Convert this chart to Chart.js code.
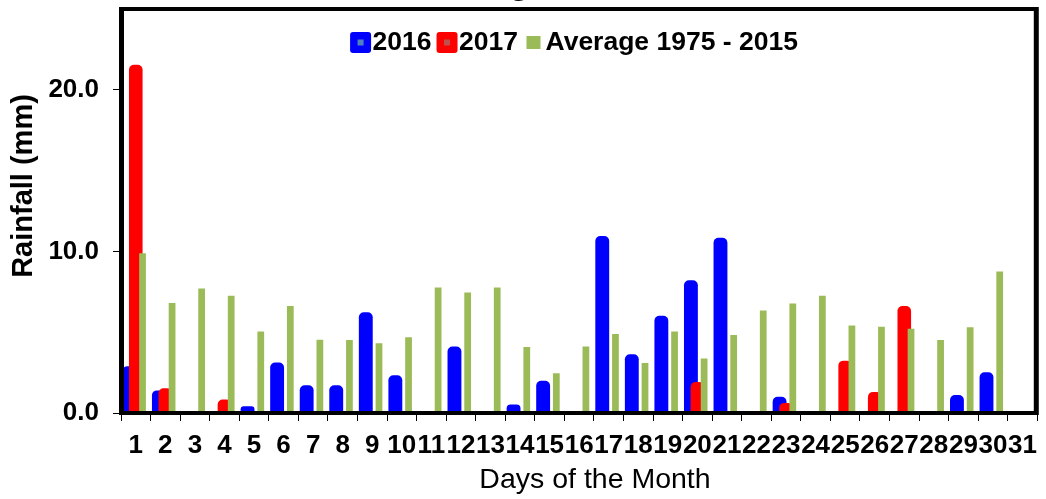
<!DOCTYPE html>
<html>
<head>
<meta charset="utf-8">
<script src="https://cdn.jsdelivr.net/npm/chart.js@4/dist/chart.umd.min.js"></script>
<style>
  html, body { margin: 0; padding: 0; background: #fff; overflow: hidden; }
  #wrap { position: relative; width: 1046px; height: 499px; overflow: hidden; }
  #chart { position: absolute; left: 0; top: -35px; }
</style>
</head>
<body>
<div id="wrap"><canvas id="chart" width="1046" height="534"></canvas></div>
<script>
  // Days of the month (x axis)
  const days = ["1", "2", "3", "4", "5", "6", "7", "8", "9", "10", "11", "12", "13", "14", "15", "16",
    "17", "18", "19", "20", "21", "22", "23", "24", "25", "26", "27", "28", "29", "30", "31"];

  // Daily rainfall in mm
  const rain2016 = [2.9, 1.4, 0, 0, 0.41, 3.12, 1.71, 1.71, 6.23, 2.33, 0, 4.11, 0, 0.52, 2.0, 0,
    10.95, 3.63, 6.02, 8.21, 10.85, 0, 1.01, 0, 0, 0, 0, 0, 1.11, 2.52, 0];
  const rain2017 = [21.55, 1.53, 0, 0.83, 0, 0, 0, 0, 0, 0, 0, 0, 0, 0, 0, 0,
    0, 0, 0, 1.92, 0, 0, 0.62, 0, 3.24, 1.3, 6.62, 0, 0, 0, 0];
  const rainAverage = [9.89, 6.8, 7.71, 7.26, 5.05, 6.62, 4.54, 4.51, 4.31, 4.68, 7.77, 7.45, 7.77, 4.08, 2.46, 4.12,
    4.89, 3.09, 5.05, 3.38, 4.82, 6.35, 6.77, 7.26, 5.42, 5.34, 5.22, 4.51, 5.3, 8.76, null];

  const seriesNames = ["2016", "2017", "Average 1975 - 2015"];
  const yMax = 25;
  const yStep = 10;

  const FONT = "'Liberation Sans', Arial, sans-serif";
  const SHIFT = 35; // canvas sits 35px above the page so the title is cut off

  // Legend inside the plot, axis titles and the top/right frame
  const chartExtras = {
    id: "chartExtras",
    beforeDatasetsDraw(chart) {
      // draw series in index order so the right-hand bars sit on top
      const ctx = chart.ctx, a = chart.chartArea;
      ctx.save();
      ctx.beginPath();
      ctx.rect(a.left, a.top, a.right - a.left, a.bottom - a.top);
      ctx.clip();
      chart.getSortedVisibleDatasetMetas().forEach(meta => meta.controller.draw());
      ctx.restore();
      return false;
    },
    afterDraw(chart) {
      const ctx = chart.ctx, a = chart.chartArea;
      ctx.save();

      // frame
      ctx.strokeStyle = "#000";
      ctx.lineWidth = 4;
      ctx.beginPath();
      ctx.moveTo(a.left - 2, a.top);
      ctx.lineTo(a.right, a.top);
      ctx.stroke();
      ctx.lineWidth = 5;
      ctx.beginPath();
      ctx.moveTo(a.right - 1, a.top - 2);
      ctx.lineTo(a.right - 1, a.bottom + 2);
      ctx.stroke();

      // legend
      const inner = ["#4F81BD", "#C0504D", null];
      ctx.font = "bold 26.5px " + FONT;
      ctx.textBaseline = "middle";
      ctx.textAlign = "left";
      const items = chart.data.datasets.map((ds, i) => ({
        label: ds.label, color: ds.backgroundColor, inner: inner[i], w: ctx.measureText(ds.label).width
      }));
      const slot = 21, gapText = 1.5, gapItem = 5;
      let total = 0;
      items.forEach((it, i) => { total += slot + gapText + it.w + (i ? gapItem : 0); });
      let x = 574 - total / 2;
      const cy = 42.5 + SHIFT;
      items.forEach(it => {
        if (it.inner) {
          ctx.fillStyle = it.color;
          ctx.beginPath();
          ctx.roundRect(x, cy - 10.5, slot, slot, 3);
          ctx.fill();
          ctx.fillStyle = it.inner;
          ctx.fillRect(x + 7.5, cy - 3, 6, 6);
        } else {
          ctx.fillStyle = it.color;
          ctx.fillRect(x + 3.5, cy - 6.5, 14, 13);
        }
        x += slot + gapText;
        ctx.fillStyle = "#000";
        ctx.fillText(it.label, x, cy);
        x += it.w + gapItem;
      });

      // x axis title
      ctx.font = "28.5px " + FONT;
      ctx.textAlign = "center";
      ctx.textBaseline = "alphabetic";
      ctx.fillText("Days of the Month", 595, 488 + SHIFT);

      // y axis title
      ctx.font = "bold 29px " + FONT;
      ctx.translate(32, 186 + SHIFT);
      ctx.rotate(-Math.PI / 2);
      ctx.fillText("Rainfall (mm)", 0, 0);
      ctx.restore();
    }
  };

  const tickFont = { family: FONT, size: 26, weight: "bold" };

  new Chart(document.getElementById("chart"), {
    type: "bar",
    data: {
      labels: days,
      datasets: [
        { label: seriesNames[0], data: rain2016, backgroundColor: "#0000FF", borderRadius: 5,
          categoryPercentage: 0.655, barPercentage: 2.15 },
        { label: seriesNames[1], data: rain2017, backgroundColor: "#FF0000", borderRadius: 5,
          categoryPercentage: 0.6, barPercentage: 2.3 },
        { label: seriesNames[2], data: rainAverage, backgroundColor: "#9BBB59", borderRadius: 0,
          categoryPercentage: 0.685, barPercentage: 1.0 }
      ]
    },
    options: {
      responsive: false,
      animation: false,
      devicePixelRatio: 1,
      layout: { padding: { left: 0, right: 2, top: 0, bottom: 0 } },
      plugins: {
        legend: { display: false },
        tooltip: { enabled: false },
        title: {
          display: true,
          text: "August",
          color: "#000",
          font: { family: FONT, size: 34, weight: "bold", lineHeight: "40px" },
          padding: { top: 0, bottom: 4 }
        }
      },
      scales: {
        x: {
          grid: { offset: true, drawOnChartArea: false, color: "#000", lineWidth: 1, tickLength: 8 },
          border: { color: "#000", width: 4, z: 1 },
          ticks: { color: "#000", font: tickFont, padding: 9, maxRotation: 0, autoSkip: false },
          afterFit(scale) { scale.height = 86; }
        },
        y: {
          min: 0,
          max: yMax,
          grid: { drawOnChartArea: false, color: "#000", lineWidth: 1, tickLength: 8 },
          border: { color: "#000", width: 5, z: 1 },
          ticks: {
            stepSize: yStep, includeBounds: false, color: "#000", font: tickFont, padding: 14,
            callback: v => v.toFixed(1)
          },
          afterFit(scale) { scale.width = 121; }
        }
      }
    },
    plugins: [chartExtras]
  });
</script>
</body>
</html>
